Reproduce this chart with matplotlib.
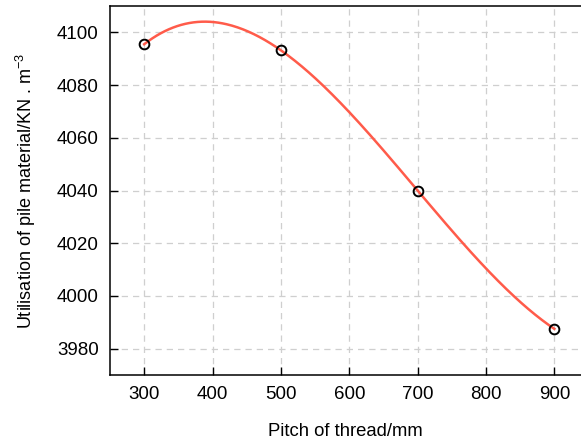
import numpy as np
import matplotlib
matplotlib.use("Agg")
import matplotlib.pyplot as plt

# ---------- datos ----------
pitch = [300, 500, 700, 900]
utilisation = [4095.5, 4093.2, 4040.0, 3987.5]
x_ticks = [300, 400, 500, 600, 700, 800, 900]
y_ticks = [3980, 4000, 4020, 4040, 4060, 4080, 4100]

plt.rcParams["font.family"] = ["Liberation Sans", "DejaVu Sans"]
plt.rcParams["mathtext.fontset"] = "custom"
plt.rcParams["mathtext.rm"] = "Liberation Sans"

fig = plt.figure(figsize=(5.81, 4.42), dpi=100)
ax = fig.add_axes([0.1893, 0.1516, 0.8107, 0.8348])

# curva suave (cubica por los 4 puntos)
coef = np.polyfit(pitch, utilisation, 3)
xs = np.linspace(min(pitch), max(pitch), 300)
ax.plot(xs, np.polyval(coef, xs), color="#ff5b4a", lw=1.8, zorder=3)
ax.plot(pitch, utilisation, "o", mfc="none", mec="black", mew=1.4, ms=7, zorder=4)

ax.set_xlim(250, 939)
ax.set_ylim(3970, 4110)
ax.set_xticks(x_ticks)
ax.set_yticks(y_ticks)
ax.tick_params(direction="in", length=6, width=1, labelsize=13.5, pad=8)
ax.grid(True, ls=(0, (5, 4)), color="#cfcfcf", lw=0.9)
ax.spines["right"].set_visible(False)
for s in ["left", "bottom", "top"]:
    ax.spines[s].set_linewidth(1.1)

ax.set_xlabel("Pitch of thread/mm", fontsize=13.3, labelpad=14)
ax.set_ylabel("Utilisation of pile material/KN . m$^{\\mathrm{-3}}$", fontsize=13, labelpad=14)

fig.savefig("out.png", dpi=100)
